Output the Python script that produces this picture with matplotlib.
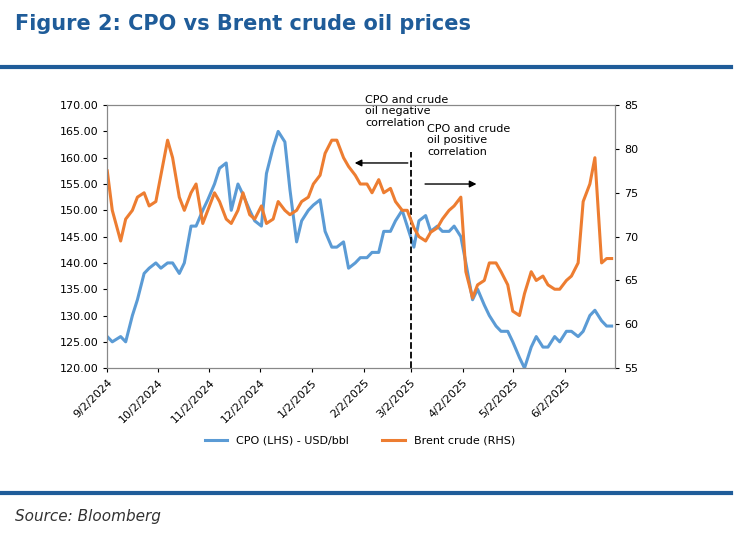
import matplotlib
matplotlib.use("Agg")
import matplotlib.pyplot as plt
import pandas as pd

dates = ["2024-09-02","2024-09-05","2024-09-10","2024-09-13","2024-09-17","2024-09-20","2024-09-24","2024-09-27",
"2024-10-01","2024-10-04","2024-10-08","2024-10-11","2024-10-15","2024-10-18","2024-10-22","2024-10-25","2024-10-29",
"2024-11-01","2024-11-05","2024-11-08","2024-11-12","2024-11-15","2024-11-19","2024-11-22","2024-11-26","2024-11-29",
"2024-12-03","2024-12-06","2024-12-10","2024-12-13","2024-12-17","2024-12-20","2024-12-24","2024-12-27","2024-12-31",
"2025-01-03","2025-01-07","2025-01-10","2025-01-14","2025-01-17","2025-01-21","2025-01-24","2025-01-28","2025-01-31",
"2025-02-04","2025-02-07","2025-02-11","2025-02-14","2025-02-18","2025-02-21","2025-02-25","2025-02-28",
"2025-03-04","2025-03-07","2025-03-11","2025-03-14","2025-03-18","2025-03-21","2025-03-25","2025-03-28",
"2025-04-01","2025-04-04","2025-04-08","2025-04-11","2025-04-15","2025-04-18","2025-04-22","2025-04-25","2025-04-29",
"2025-05-02","2025-05-06","2025-05-09","2025-05-13","2025-05-16","2025-05-20","2025-05-23","2025-05-27","2025-05-30",
"2025-06-03","2025-06-06","2025-06-10","2025-06-13","2025-06-17","2025-06-20","2025-06-24","2025-06-27","2025-06-30"]
cpo = [126,125,126,125,130,133,138,139,
140,139,140,140,138,140,147,147,150,
152,155,158,159,150,155,153,150,148,
147,157,162,165,163,154,144,148,150,
151,152,146,143,143,144,139,140,141,
141,142,142,146,146,148,150,147,
143,148,149,146,147,146,146,147,
145,140,133,135,132,130,128,127,127,
125,122,120,124,126,124,124,126,125,
127,127,126,127,130,131,129,128,128]
brent = [77.5,73,69.5,72,73,74.5,75,73.5,
74,77,81,79,74.5,73,75,76,71.5,
73,75,74,72,71.5,73,75,72.5,72,
73.5,71.5,72,74,73,72.5,73,74,74.5,
76,77,79.5,81,81,79,78,77,76,
76,75,76.5,75,75.5,74,73,73,
71,70,69.5,70.5,71,72,73,73.5,
74.5,66,63,64.5,65,67,67,66,64.5,
61.5,61,63.5,66,65,65.5,64.5,64,64,
65,65.5,67,74,76,79,67,67.5,67.5]
tick_dates = ["2024-09-02","2024-10-02","2024-11-02","2024-12-02","2025-01-02","2025-02-02",
              "2025-03-02","2025-04-02","2025-05-02","2025-06-02"]

d = pd.to_datetime(dates)
td = pd.to_datetime(tick_dates)
blue = "#5B9BD5"; orange = "#ED7D31"; navy = "#1F5C99"

fig = plt.figure(figsize=(7.5, 5.39), dpi=100)
fig.text(0.02, 0.955, "Figure 2: CPO vs Brent crude oil prices", fontsize=15, fontweight="bold", color=navy, va="center")
fig.add_artist(plt.Line2D([0, 0.975], [0.875, 0.875], color=navy, lw=3))
fig.add_artist(plt.Line2D([0, 0.975], [0.085, 0.085], color=navy, lw=3))
fig.text(0.02, 0.042, "Source: Bloomberg", fontsize=11, style="italic", color="#333333", va="center")

ax = fig.add_axes([0.143, 0.317, 0.677, 0.488])
ax2 = ax.twinx()
l1, = ax.plot(d, cpo, color=blue, lw=2.2, label="CPO (LHS) - USD/bbl")
l2, = ax2.plot(d, brent, color=orange, lw=2.2, label="Brent crude (RHS)")
ax.set_ylim(120, 170); ax2.set_ylim(55, 85)
ax.set_yticks(range(120, 171, 5)); ax2.set_yticks(range(55, 86, 5))
ax.yaxis.set_major_formatter(matplotlib.ticker.FormatStrFormatter("%.2f"))
ax.set_xlim(pd.Timestamp("2024-09-02"), pd.Timestamp("2025-07-02"))
ax.set_xticks(td)
ax.set_xticklabels([f"{t.month}/{t.day}/{t.year}" for t in td], rotation=45, ha="right", rotation_mode="anchor")
for a in (ax, ax2):
    a.tick_params(labelsize=8, length=3)
    for s in a.spines.values():
        s.set_color("#888888")
ax.axvline(pd.Timestamp("2025-03-02"), ymin=0, ymax=0.82, color="black", ls="--", lw=1.3)
ax.text(pd.Timestamp("2025-02-03"), 172, "CPO and crude\noil negative\ncorrelation", fontsize=8, va="top", ha="left")
ax.annotate("", xy=(pd.Timestamp("2025-01-26"), 159), xytext=(pd.Timestamp("2025-03-02"), 159),
            arrowprops=dict(arrowstyle="-|>", color="black", lw=1))
ax.text(pd.Timestamp("2025-03-12"), 166.5, "CPO and crude\noil positive\ncorrelation", fontsize=8, va="top", ha="left")
ax.annotate("", xy=(pd.Timestamp("2025-04-12"), 155), xytext=(pd.Timestamp("2025-03-09"), 155),
            arrowprops=dict(arrowstyle="-|>", color="black", lw=1))
fig.legend(handles=[l1, l2], loc="center", bbox_to_anchor=(0.48, 0.182), ncol=2, frameon=False, fontsize=8, columnspacing=3)
fig.savefig("out.png", dpi=100)
